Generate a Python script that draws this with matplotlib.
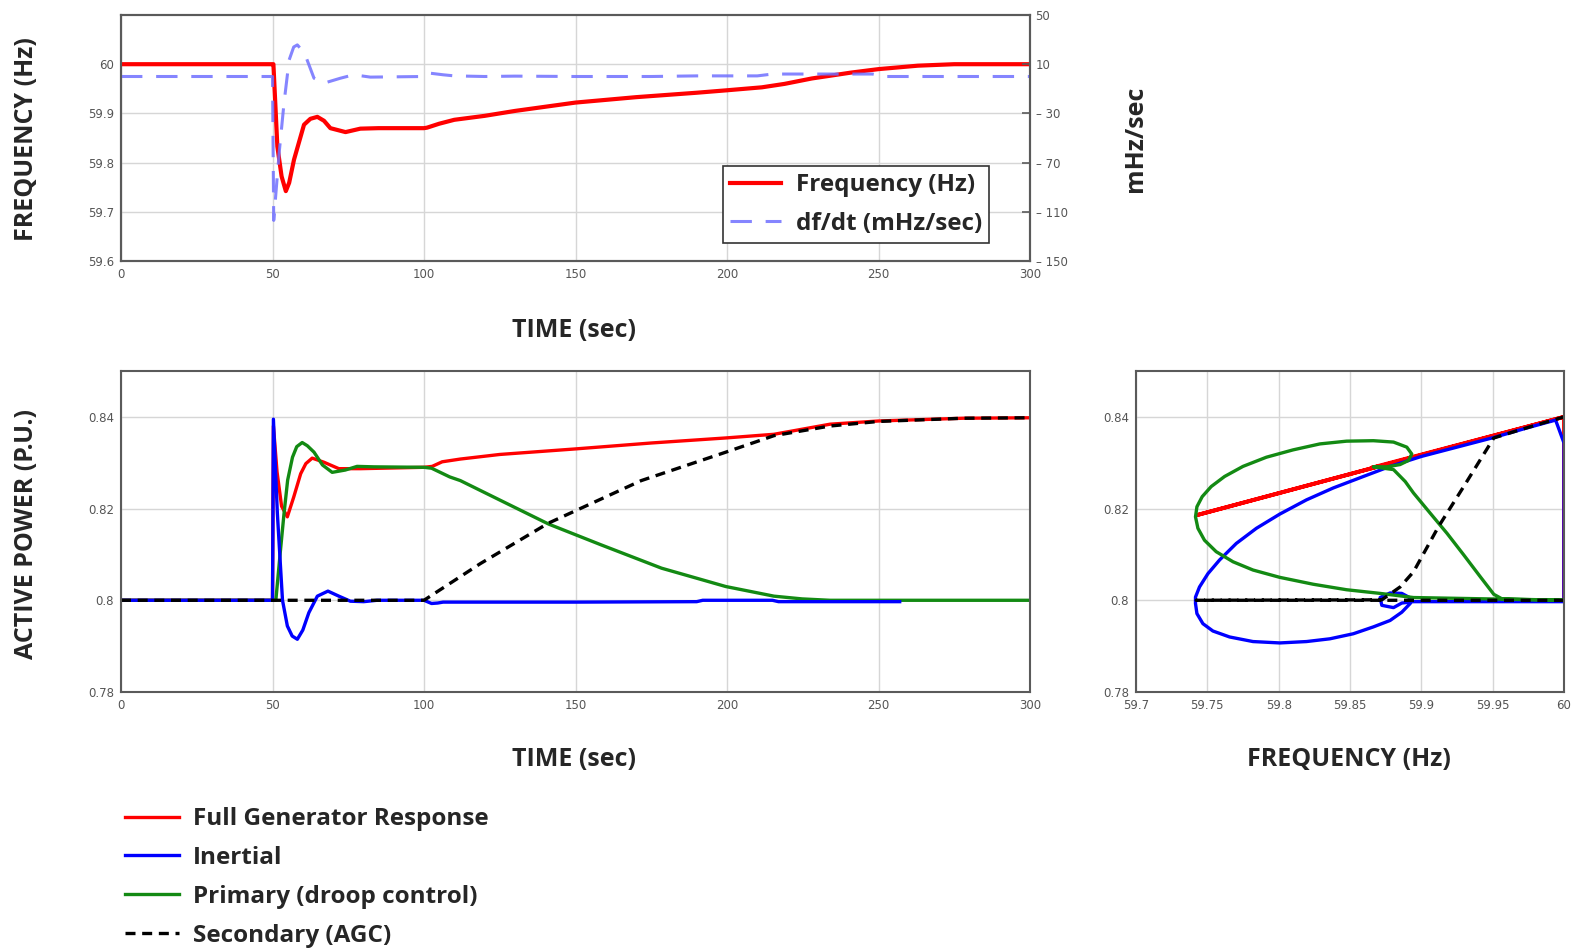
import matplotlib.pyplot as plt

plt.rcParams['font.family'] = ['Open Sans', 'DejaVu Sans']

W, H = 1579, 948

# --- top panel: system frequency and its rate of change
t_freq = [0, 50, 50.3, 51.6, 53, 54.4, 55.5, 57.1, 60.4, 62.5, 64.8, 67, 69.1, 74.1, 79, 85,
          100, 101, 105, 110, 120, 130, 150, 170, 190, 200, 211.5, 219, 228, 241, 250, 263, 275, 300]
freq_hz = [60, 60, 60, 59.833, 59.772, 59.742, 59.759, 59.806, 59.877, 59.889, 59.893, 59.885,
           59.870, 59.862, 59.869, 59.870, 59.870, 59.871, 59.879, 59.887, 59.895, 59.905, 59.922,
           59.933, 59.942, 59.947, 59.953, 59.960, 59.971, 59.983, 59.990, 59.997, 60.0, 60.0]

t_dfdt = [0, 50, 50.4, 52.2, 53.8, 55.5, 57, 58.2, 59.5, 61, 63.7, 67, 72.4, 76.8, 82.3, 100,
          102, 106.3, 110, 120, 130, 150, 175, 190, 210, 215, 230, 248, 252, 300]
dfdt_mhz = [0, 0, -117, -62, -21.6, 13.5, 24, 25.7, 22, 16.2, -1.4, -5.4, -1.4, 1.4, -0.5, 0,
            2.7, 1.4, 0.5, 0, 0.3, 0, 0, 0.5, 0.5, 2, 2, 2, 0, 0]

# --- bottom-left: active power vs time
t_full = [0, 50, 50.3, 51.5, 53, 54.9, 57, 59.3, 61, 63.1, 67, 71.9, 79, 100, 102.7, 106, 112,
          125, 149.8, 175, 199.6, 215.5, 234, 250, 278, 300]
p_full = [0.8, 0.8, 0.838, 0.828, 0.8205, 0.8182, 0.8225, 0.8276, 0.8298, 0.8310, 0.8301, 0.8287,
          0.8287, 0.8290, 0.8292, 0.8302, 0.8308, 0.8318, 0.8330, 0.8343, 0.8354, 0.8362, 0.8384,
          0.8391, 0.8397, 0.8398]

t_inert = [0, 50, 50.3, 51.6, 53.3, 54.9, 56.5, 58.2, 60, 62, 64.8, 68.3, 71.9, 75.7, 80.1, 84.5,
           100, 102.5, 104.5, 106.3, 150, 190, 192, 215, 217, 257]
p_inert = [0.8, 0.8, 0.8395, 0.819, 0.8, 0.7944, 0.7922, 0.7915, 0.7935, 0.7973, 0.8009, 0.8020,
           0.8009, 0.7998, 0.7997, 0.8, 0.8, 0.7993, 0.7994, 0.7996, 0.7996, 0.7997, 0.8, 0.8,
           0.7997, 0.7997]

t_prim = [0, 51.1, 52.5, 53.8, 55, 56.6, 58, 59.8, 61.5, 63.7, 66.5, 69.7, 74, 77.9, 83.4, 100,
          102.5, 108.5, 112, 125.2, 141.2, 158.4, 178.4, 199.6, 215.5, 224.8, 234, 300]
p_prim = [0.8, 0.8, 0.810, 0.8189, 0.8262, 0.8312, 0.8335, 0.8344, 0.8337, 0.8323, 0.8295, 0.8279,
          0.8284, 0.8292, 0.8291, 0.8290, 0.8288, 0.8269, 0.8261, 0.8218, 0.8166, 0.8121, 0.8070,
          0.8030, 0.8009, 0.8003, 0.8, 0.8]

t_sec = [0, 100, 118.6, 141, 171.7, 199.6, 215.5, 234, 250, 278, 300]
p_sec = [0.8, 0.8, 0.808, 0.8168, 0.8261, 0.8323, 0.8359, 0.8380, 0.8390, 0.8397, 0.8398]

# --- bottom-right: active power vs frequency
f_full_ph = [60, 60, 59.743, 59.87, 59.865, 60]
p_full_ph = [0.8, 0.84, 0.8186, 0.8292, 0.8289, 0.84]

f_inert_ph = [60.0, 60.0, 59.9941, 59.9742, 59.9508, 59.925, 59.9004, 59.8781, 59.8594, 59.8383,
              59.8195, 59.8008, 59.7844, 59.7703, 59.7586, 59.7504, 59.7445, 59.7417, 59.7417,
              59.7427, 59.7469, 59.7539, 59.7656, 59.782, 59.8008, 59.8195, 59.8359, 59.8523,
              59.8664, 59.8781, 59.8863, 59.8922, 59.8917, 59.8863, 59.8781, 59.8711, 59.8723,
              59.8805, 59.8863, 59.8945, 60.0]
p_inert_ph = [0.79985, 0.8343, 0.8393, 0.8376, 0.8355, 0.8334, 0.8314, 0.8292, 0.8270, 0.8245,
              0.8219, 0.8188, 0.8157, 0.8124, 0.8088, 0.8058, 0.8029, 0.8007, 0.7993, 0.7971,
              0.7949, 0.7933, 0.7920, 0.7910, 0.7907, 0.7910, 0.7916, 0.7927, 0.7942, 0.7956,
              0.7974, 0.7993, 0.8006, 0.8015, 0.8016, 0.8006, 0.7989, 0.7984, 0.7994, 0.7997,
              0.7997]

f_prim_ph = [60, 59.8945, 59.8711, 59.8476, 59.8242, 59.8008, 59.782, 59.768, 59.7562, 59.748,
             59.7434, 59.7417, 59.7427, 59.7464, 59.7527, 59.7621, 59.775, 59.7914, 59.8101,
             59.8289, 59.8476, 59.8664, 59.8805, 59.8898, 59.8933, 59.891, 59.8851, 59.8758,
             59.8664, 59.8805, 59.8887, 59.8945, 59.9062, 59.918, 59.9297, 59.9414, 59.9508,
             59.9566, 60]
p_prim_ph = [0.8, 0.8006, 0.8015, 0.8023, 0.8035, 0.8050, 0.8066, 0.8084, 0.8106, 0.8131, 0.8157,
             0.8182, 0.8204, 0.8226, 0.8248, 0.8270, 0.8292, 0.8312, 0.8328, 0.8341, 0.8347,
             0.8348, 0.8345, 0.8334, 0.8319, 0.8305, 0.8296, 0.8291, 0.8291, 0.8285, 0.8259,
             0.8234, 0.8190, 0.8146, 0.8099, 0.8051, 0.8013, 0.8003, 0.8]

f_sec_ph = [60, 59.7422, 59.8723, 59.8851, 59.8945, 59.9121, 59.9297, 59.9508, 59.9695, 60]
p_sec_ph = [0.8, 0.8, 0.8001, 0.8029, 0.8062, 0.8161, 0.8248, 0.8354, 0.8372, 0.84]

RED, BLUE, GREEN = '#ff0000', '#0000ff', '#138a13'
TXT = '#262626'


def box(left, top, right, bottom):
    return [left / W, 1 - bottom / H, (right - left) / W, (bottom - top) / H]


def style(ax):
    for s in ax.spines.values():
        s.set_color('#5a5a5a')
        s.set_linewidth(1.5)
    ax.grid(True, color='#d6d6d6', lw=1)
    ax.set_axisbelow(True)
    ax.tick_params(length=0, labelsize=8.5, labelcolor='#555555', pad=5,
                   labelfontfamily='DejaVu Sans')


fig = plt.figure(figsize=(W / 100, H / 100), dpi=100)

# top
ax_f = fig.add_axes(box(121, 15, 1030, 261))
style(ax_f)
ax_f.plot(t_freq, freq_hz, color=RED, lw=3, label='Frequency (Hz)')
ax_f.set_xlim(0, 300)
ax_f.set_ylim(59.6, 60.1)
ax_f.set_xticks(range(0, 301, 50))
ax_f.set_yticks([59.6, 59.7, 59.8, 59.9, 60])
ax_f.set_yticklabels(['59.6', '59.7', '59.8', '59.9', '60'])

ax_d = ax_f.twinx()
ax_d.plot(t_dfdt, dfdt_mhz, color='#7070ff', lw=2.2, alpha=0.85,
          dashes=(7, 4.5), label='df/dt (mHz/sec)')
ax_d.set_ylim(-150, 50)
ax_d.set_yticks([-150, -110, -70, -30, 10, 50])
ax_d.set_yticklabels(['– 150', '– 110', '– 70', '– 30', '10', '50'])
ax_d.tick_params(axis='y', direction='in', length=6, width=1.2, color='#5a5a5a',
                 labelsize=8.5, labelcolor='#555555', pad=4, labelfontfamily='DejaVu Sans')
for s in ax_d.spines.values():
    s.set_color('#5a5a5a')
    s.set_linewidth(1.5)

h1, l1 = ax_f.get_legend_handles_labels()
h2, l2 = ax_d.get_legend_handles_labels()
leg = ax_d.legend(h1 + h2, l1 + l2, loc='upper left', bbox_to_anchor=(0.662, 0.386),
                  borderaxespad=0, fancybox=False, framealpha=1, edgecolor='#333333',
                  prop={'weight': 'bold', 'size': 17.5}, handlelength=2.1, handletextpad=0.6,
                  labelspacing=0.6, borderpad=0.3)
leg.get_frame().set_linewidth(1.2)
for t in leg.get_texts():
    t.set_color(TXT)

# bottom-left
ax_p = fig.add_axes(box(121, 371, 1030, 692))
style(ax_p)
ax_p.plot(t_full, p_full, color=RED, lw=2.4, label='Full Generator Response')
ax_p.plot(t_prim, p_prim, color=GREEN, lw=2.4, label='Primary (droop control)')
ax_p.plot(t_inert, p_inert, color=BLUE, lw=2.4, label='Inertial')
ax_p.plot(t_sec, p_sec, color='black', lw=2.4, dashes=(3, 2), label='Secondary (AGC)')
ax_p.set_xlim(0, 300)
ax_p.set_ylim(0.78, 0.85)
ax_p.set_xticks(range(0, 301, 50))
ax_p.set_yticks([0.78, 0.8, 0.82, 0.84])
ax_p.set_yticklabels(['0.78', '0.8', '0.82', '0.84'])

# bottom-right
ax_ph = fig.add_axes(box(1136, 371, 1564, 692))
style(ax_ph)
ax_ph.plot(f_full_ph, p_full_ph, color=RED, lw=2.8)
ax_ph.plot(f_inert_ph, p_inert_ph, color=BLUE, lw=2.4)
ax_ph.plot(f_prim_ph, p_prim_ph, color=GREEN, lw=2.4)
ax_ph.plot(f_sec_ph, p_sec_ph, color='black', lw=2.4, dashes=(3, 2))
ax_ph.set_xlim(59.7, 60)
ax_ph.set_ylim(0.78, 0.85)
ax_ph.set_xticks([59.7, 59.75, 59.8, 59.85, 59.9, 59.95, 60])
ax_ph.set_xticklabels(['59.7', '59.75', '59.8', '59.85', '59.9', '59.95', '60'])
ax_ph.set_yticks([0.78, 0.8, 0.82, 0.84])
ax_ph.set_yticklabels(['0.78', '0.8', '0.82', '0.84'])

# axis titles
lab = dict(fontsize=18, fontweight='bold', color=TXT, ha='center', va='center')
fig.text(27 / W, 1 - 139 / H, 'FREQUENCY (Hz)', rotation=90, **lab)
fig.text(1135 / W, 1 - 139 / H, 'mHz/sec', rotation=90, **lab)
fig.text(574 / W, 1 - 330 / H, 'TIME (sec)', **lab)
fig.text(27 / W, 1 - 534 / H, 'ACTIVE POWER (P.U.)', rotation=90, **lab)
fig.text(574 / W, 1 - 760 / H, 'TIME (sec)', **lab)
fig.text(1349 / W, 1 - 760 / H, 'FREQUENCY (Hz)', **lab)

# shared legend under the plots
hp, lp = ax_p.get_legend_handles_labels()
order = [0, 2, 1, 3]
leg2 = fig.legend([hp[i] for i in order], [lp[i] for i in order], loc='upper left',
                  bbox_to_anchor=(113 / W, 1 - 795 / H), frameon=False,
                  prop={'weight': 'bold', 'size': 17.5}, handlelength=2.2, handletextpad=0.6,
                  labelspacing=0.61, borderpad=0)
for t in leg2.get_texts():
    t.set_color(TXT)

fig.savefig('out.png', dpi=100)
